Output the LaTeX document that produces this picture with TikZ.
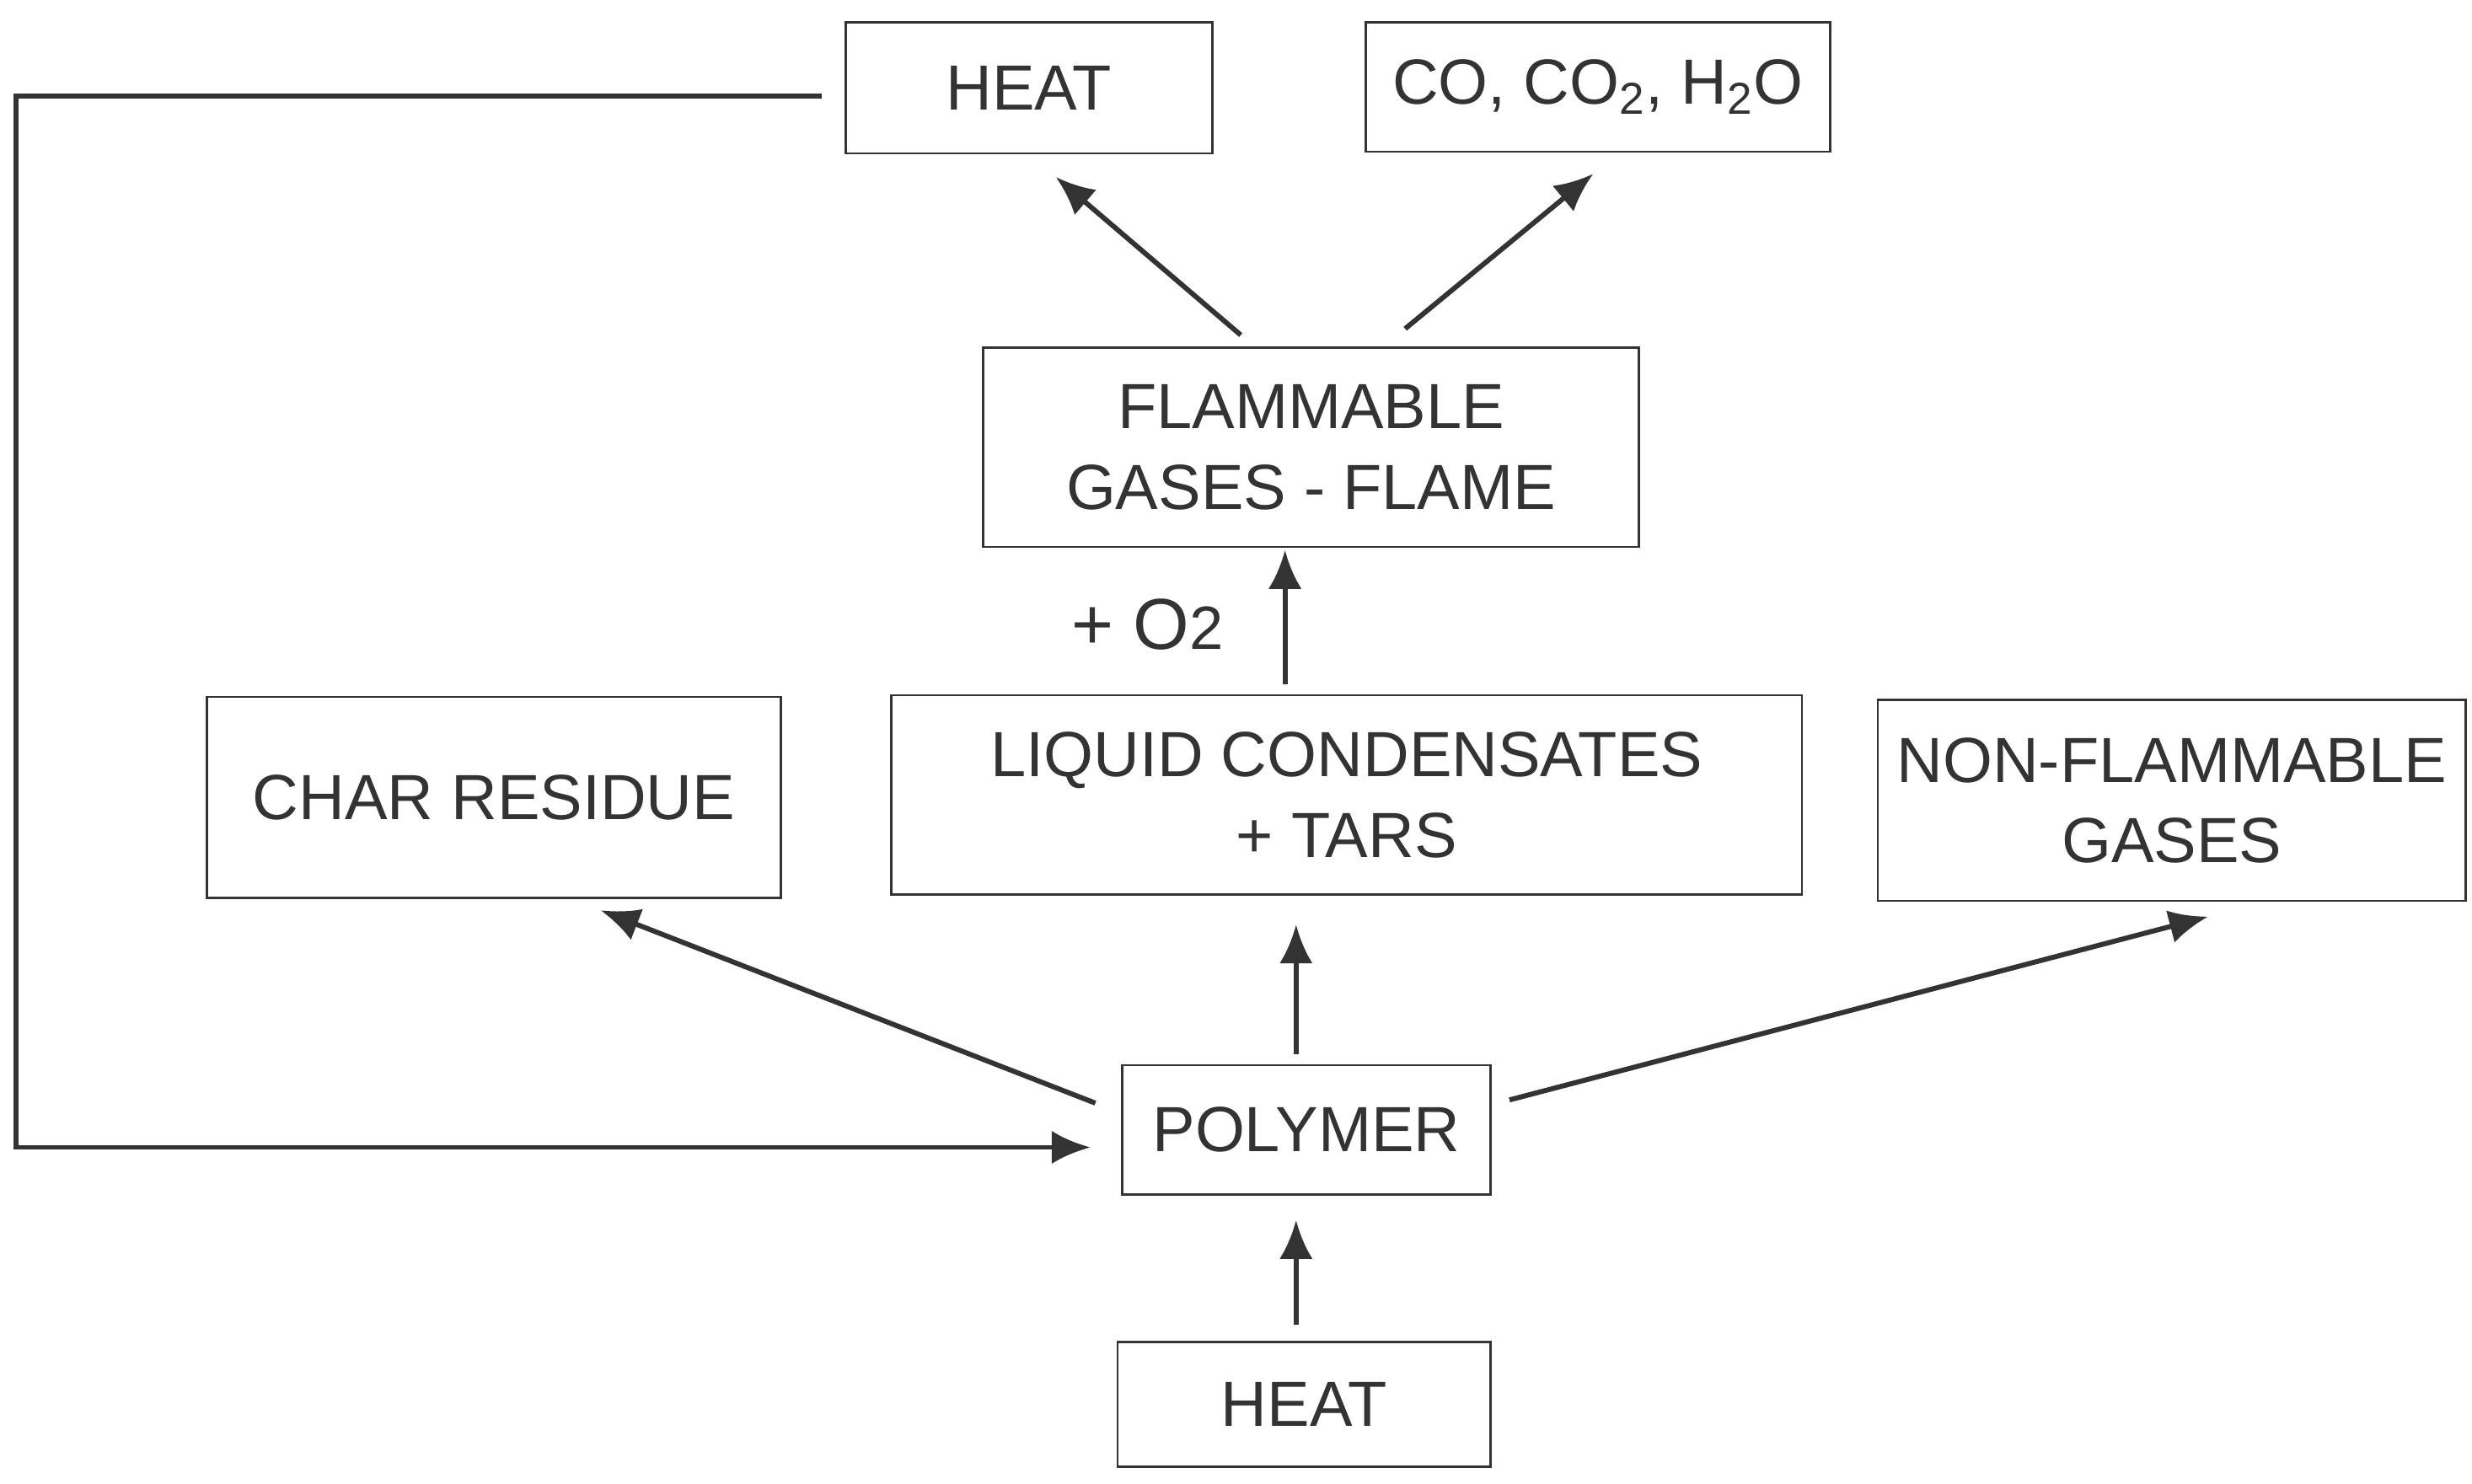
\documentclass[tikz,border=0pt]{standalone}
\usepackage{fontspec}
\setmainfont{Liberation Sans}
\usetikzlibrary{arrows.meta}
\definecolor{ink}{HTML}{333333}
\begin{document}
\begin{tikzpicture}[x=0.02cm,y=-0.02cm,
  box/.style={draw=ink,line width=0.8pt,inner sep=0pt,align=center,text=ink,font=\fontsize{23}{29}\selectfont},
  arr/.style={draw=ink,line width=1.8pt,-{Latex[length=14pt,width=12pt]}}]
\useasboundingbox (0,0) rectangle (1564,938.6);
\newcommand\bx[6]{\node[box,minimum width={(#4-#2)*0.02cm},minimum height={(#5-#3)*0.02cm}] (#1) at ({(#2+#4)/2},{(#3+#5)/2}) {#6};}
\bx{heatT}{535}{14}{767}{97}{HEAT}
\bx{co}{864}{14}{1158}{96}{CO, CO\textsubscript{2}, H\textsubscript{2}O}
\bx{flam}{622}{220}{1037}{346}{FLAMMABLE\\GASES - FLAME}
\bx{char}{131}{441}{494}{568}{CHAR RESIDUE}
\bx{liq}{564}{440}{1140}{566}{LIQUID CONDENSATES\\+ TARS}
\bx{non}{1188}{443}{1560}{570}{NON-FLAMMABLE\\GASES}
\bx{poly}{710}{674}{943}{756}{POLYMER}
\bx{heatB}{707}{849}{943}{928}{HEAT}
\node[text=ink,font=\fontsize{26}{30}\selectfont] (o2) at (726,395) {+ O{\fontsize{22}{26}\selectfont 2}};
\coordinate (a1) at (785,212); \coordinate (b1) at (668,112);
\coordinate (a2) at (889,208); \coordinate (b2) at (1008,110);
\coordinate (a3) at (813,433); \coordinate (b3) at (813,348);
\coordinate (a4) at (820,667); \coordinate (b4) at (820,585);
\coordinate (a5) at (693,698); \coordinate (b5) at (380,576);
\coordinate (a6) at (955,696); \coordinate (b6) at (1397,580);
\coordinate (a7) at (820,838); \coordinate (b7) at (820,772);
\coordinate (f0) at (520,61); \coordinate (f1) at (10,61); \coordinate (f2) at (10,726); \coordinate (f3) at (690,726);
\foreach \i in {1,...,7} \draw[arr] (a\i) -- (b\i);
\draw[arr] (f0) -- (f1) -- (f2) -- (f3);
\end{tikzpicture}
\end{document}
